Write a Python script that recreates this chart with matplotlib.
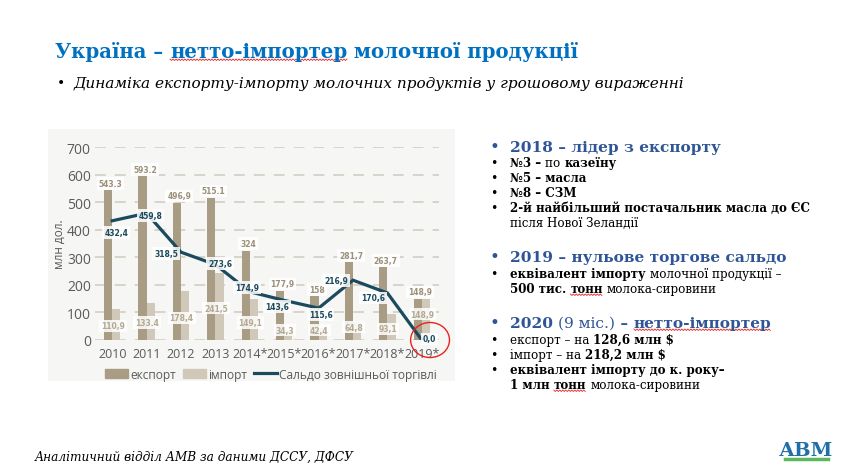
import matplotlib
matplotlib.use('Agg')
import matplotlib.pyplot as plt
import matplotlib.transforms as mtransforms
from matplotlib.patches import Rectangle, Ellipse, Patch
from matplotlib.lines import Line2D
import numpy as np

W, H = 845, 464

years = ['2010', '2011', '2012', '2013', '2014*', '2015*', '2016*', '2017*', '2018*', '2019*']
export = [543.3, 593.2, 496.9, 515.1, 324.0, 177.9, 158.0, 281.7, 263.7, 148.9]
imports = [110.9, 133.4, 178.4, 241.5, 149.1, 34.3, 42.4, 64.8, 93.1, 148.9]
saldo = [432.4, 459.8, 318.5, 273.6, 174.9, 143.6, 115.6, 216.9, 170.6, 0.0]
export_txt = ['543.3', '593.2', '496,9', '515.1', '324', '177,9', '158', '281,7', '263,7', '148,9']
import_txt = ['110,9', '133.4', '178,4', '241,5', '149,1', '34,3', '42,4', '64,8', '93,1', '148,9']
saldo_txt = ['432,4', '459,8', '318,5', '273,6', '174,9', '143,6', '115,6', '216,9', '170,6', '0,0']

# label placement (pixels / data heights)
import_lbl_y = [51, 62, 80, 116, 62, 36, 36, 47, 40, 94]
saldo_off = [(4, -12), (4, -2), (-15, -1), (5, 1), (-3, 4), (-7, -6), (2, -6), (-17, 0), (-14, -5), (8, 1)]

C_EXP = '#a89d84'
C_IMP = '#d0c9b9'
C_LINE = '#1b4a5e'
C_TXT = '#5a5a5a'
BLUE = '#0070c0'
DBLUE = '#2f5597'


def px(x, y):
    return x / W, 1 - y / H


def squiggle(fig, x0, x1, y):
    xs = np.arange(x0, x1 + 0.1, 1.5)
    ys = y + np.where(np.arange(len(xs)) % 2 == 0, 0.0, 1.5)
    fig.add_artist(Line2D(xs / W, 1 - ys / H, transform=fig.transFigure,
                          color='#e02424', lw=0.6))


def draw_runs(fig, r, x, y, runs, size, family='DejaVu Serif'):
    fx, fy = px(x, y)
    for run in runs:
        txt, weight, color = run[:3]
        t = fig.text(fx, fy, txt, fontsize=size, fontweight=weight, color=color,
                     family=family, va='baseline', ha='left')
        w = t.get_window_extent(r).width / W
        if len(run) > 3:
            squiggle(fig, fx * W, (fx + w) * W, y + 2)
        fx += w


def main():
    fig = plt.figure(figsize=(W / 100, H / 100), dpi=100)
    fig.patch.set_facecolor('white')
    r = fig.canvas.get_renderer()

    # chart background panel
    fig.patches.append(Rectangle(px(48, 382), 407 / W, 252 / H, transform=fig.transFigure,
                                 facecolor='#f6f6f4', edgecolor='none', zorder=-5))

    ax = fig.add_axes([95 / W, 1 - 341 / H, 344 / W, 193 / H])
    ax.set_zorder(2)
    ax.set_facecolor('none')
    x = np.arange(len(years))
    bw = 0.24
    ax.bar(x - bw / 2, export, bw, color=C_EXP, zorder=2)
    ax.bar(x + bw / 2, imports, bw, color=C_IMP, zorder=2)
    ax.plot(x, saldo, color=C_LINE, lw=2.3, zorder=3, solid_joinstyle='miter')

    ax.set_xlim(-0.5, 9.5)
    ax.set_ylim(0, 700)
    ax.set_yticks(range(0, 701, 100))
    ax.yaxis.grid(True, ls=(0, (6, 5)), color='#d6d1c5', lw=1.3, zorder=1)
    ax.set_axisbelow(True)
    for s in ax.spines.values():
        s.set_visible(False)
    ax.tick_params(axis='y', length=0, pad=3, labelsize=10, labelcolor=C_TXT)
    ax.tick_params(axis='x', length=0, pad=5, labelsize=9, labelcolor=C_TXT)
    ax.set_xticks(x)
    ax.set_xticklabels(years, family='Open Sans')
    for t in ax.get_yticklabels():
        t.set_family('Open Sans')
    ax.set_ylabel('млн дол.', family='Open Sans', fontsize=8.5, color=C_TXT, labelpad=1)

    box = dict(boxstyle='square,pad=0.25', fc='white', ec='none', alpha=0.85)
    for i in range(len(years)):
        tr = mtransforms.offset_copy(ax.transData, fig=fig, x=0, y=7, units='dots')
        ax.text(x[i] - 0.05, export[i], export_txt[i], transform=tr, ha='center', va='center',
                fontsize=5.5, fontweight='bold', color='#9c9078', family='DejaVu Sans',
                bbox=box, zorder=4)
        ax.text(x[i] + 0.02, import_lbl_y[i], import_txt[i], ha='center', va='center',
                fontsize=5.5, fontweight='bold', color='#b3a990', family='DejaVu Sans',
                bbox=box, zorder=4)
        dx, dy = saldo_off[i]
        tr = mtransforms.offset_copy(ax.transData, fig=fig, x=dx, y=dy, units='dots')
        ax.text(x[i], saldo[i], saldo_txt[i], transform=tr, ha='center', va='center',
                fontsize=5.5, fontweight='bold', color=C_LINE, family='DejaVu Sans',
                bbox=box, zorder=5)

    ax.add_patch(Ellipse((9.24, 0), 1.13, 127, fill=False, ec='#e8231f', lw=1.0,
                         clip_on=False, zorder=6))

    handles = [Patch(color=C_EXP), Patch(color=C_IMP), Line2D([], [], color=C_LINE, lw=2.3)]
    leg = fig.legend(handles, ['експорт', 'імпорт', 'Сальдо зовнішньої торгівлі'],
                     loc='center', bbox_to_anchor=px(271, 375), ncol=3, frameon=False,
                     handlelength=1.9, handleheight=0.7, handletextpad=0.2, columnspacing=0.6,
                     prop={'family': 'Open Sans', 'size': 8.6})
    for t in leg.get_texts():
        t.set_color(C_TXT)

    # slide text
    draw_runs(fig, r, 55, 58, [('Україна – ', 'bold', BLUE), ('нетто-імпортер', 'bold', BLUE, 1),
                               (' молочної продукції', 'bold', BLUE)], 14.2)
    fig.text(*px(57, 88), '•', fontsize=10, color='black', family='DejaVu Serif', va='baseline')
    fig.text(*px(74, 88), 'Динаміка експорту-імпорту молочних продуктів у грошовому вираженні',
             fontsize=11, style='italic', color='black', family='DejaVu Serif', va='baseline')

    B, N = 'bold', 'normal'
    k = 'black'
    heads = [
        (152, [('2018 – лідер з експорту', B, DBLUE)]),
        (262, [('2019 – нульове торгове сальдо', B, DBLUE)]),
        (328, [('2020 ', B, DBLUE), ('(9 міс.)', N, DBLUE), (' – ', B, DBLUE),
               ('нетто-імпортер', B, DBLUE, 1)]),
    ]
    for y, runs in heads:
        fig.text(*px(490, y), '•', fontsize=12, color=DBLUE, family='DejaVu Serif', va='baseline')
        draw_runs(fig, r, 510, y, runs, 11.1)

    body = [
        (167, True, [('№3 – ', B, k), ('по ', N, k), ('казеїну', B, k)]),
        (182, True, [('№5 – масла', B, k)]),
        (197, True, [('№8 – СЗМ', B, k)]),
        (212, True, [('2-й найбільший постачальник масла до ЄС', B, k)]),
        (227, False, [('після Нової Зеландії', N, k)]),
        (278, True, [('еквівалент імпорту ', B, k), ('молочної продукції –', N, k)]),
        (293, False, [('500 тис. ', B, k), ('тонн', B, k, 1), (' ', B, k), ('молока-сировини', N, k)]),
        (344, True, [('експорт – на ', N, k), ('128,6 млн $', B, k)]),
        (359, True, [('імпорт – на ', N, k), ('218,2 млн $', B, k)]),
        (374, True, [('еквівалент імпорту до к. року–', B, k)]),
        (389, False, [('1 млн ', B, k), ('тонн', B, k, 1), (' ', B, k), ('молока-сировини', N, k)]),
    ]
    for y, bullet, runs in body:
        if bullet:
            fig.text(*px(490, y), '•', fontsize=9, color='black', family='DejaVu Serif',
                     va='baseline')
        draw_runs(fig, r, 510, y, runs, 8.6)

    fig.text(*px(35, 461), 'Аналітичний відділ АМВ за даними ДССУ, ДФСУ', fontsize=8.7,
             style='italic', color='black', family='DejaVu Serif', va='baseline')
    fig.text(*px(806, 451), 'АВМ', fontsize=14, fontweight='bold', color='#1f6fa8',
             family='DejaVu Serif', ha='center', va='center')
    fig.add_artist(Line2D(np.array([785, 828]) / W, [1 - 460 / H] * 2, transform=fig.transFigure,
                          color='#5cb85c', lw=2.5))

    fig.savefig('out.png', dpi=100, facecolor='white')


if __name__ == '__main__':
    main()
